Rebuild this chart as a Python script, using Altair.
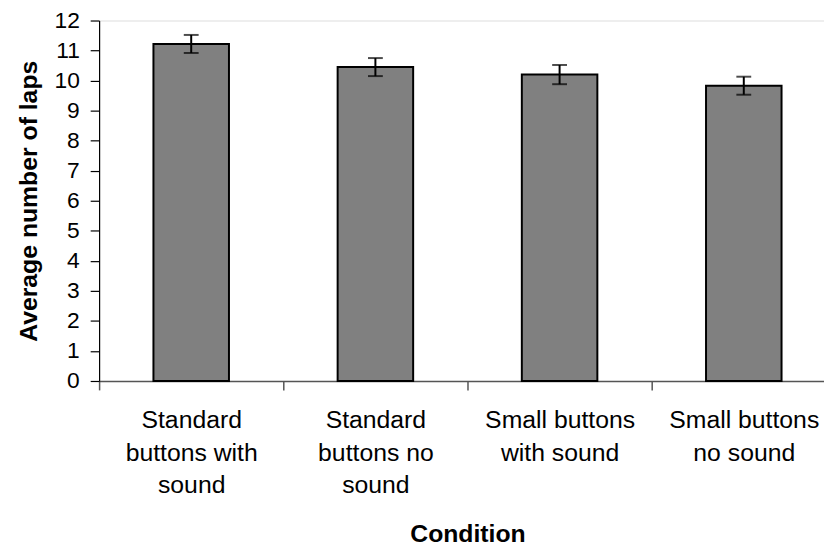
import altair as alt
import pandas as pd

conditions = [
    "Standard\nbuttons with\nsound",
    "Standard\nbuttons no\nsound",
    "Small buttons\nwith sound",
    "Small buttons\nno sound",
]
means = [11.22, 10.45, 10.2, 9.83]
errors = [0.3, 0.3, 0.32, 0.3]

df = pd.DataFrame({
    "condition": conditions,
    "mean": means,
    "lo": [m - e for m, e in zip(means, errors)],
    "hi": [m + e for m, e in zip(means, errors)],
})

font = "Liberation Sans"

x_axis = alt.Axis(
    labelAngle=0,
    labelExpr="split(datum.label, '\\n')",
    labelFont=font,
    labelFontSize=25,
    labelLineHeight=33,
    labelColor="black",
    labelPadding=18,
    labelLimit=300,
    ticks=True,
    tickOffset=-93,
    labelOffset=93,
    tickSize=9,
    tickColor="#555555",
    tickWidth=1.5,
    domainColor="#555555",
    domainWidth=1.5,
    titleFont=font,
    titleFontSize=25,
    titleFontWeight="bold",
    titleColor="black",
    titlePadding=24,
)
x_scale = alt.Scale(paddingInner=0.59, paddingOuter=0.295, range=[0, 744])

def xenc():
    return alt.X("condition:N", sort=conditions, title="Condition",
                 scale=x_scale, axis=x_axis)

y_axis = alt.Axis(
    values=list(range(0, 13)),
    grid=False,
    labelFont=font,
    labelFontSize=23,
    labelColor="black",
    labelPadding=11,
    tickSize=9,
    tickColor="black",
    tickWidth=1.2,
    domainColor="black",
    domainWidth=1.2,
    titleFont=font,
    titleFontSize=25,
    titleFontWeight="bold",
    titleColor="black",
    titlePadding=13,
)
y_scale = alt.Scale(domain=[0, 12], nice=False)

def yenc(field):
    return alt.Y(field, type="quantitative", title="Average number of laps",
                 scale=y_scale, axis=y_axis)

base = alt.Chart(df)

bars = base.mark_bar(color="#808080", stroke="black", strokeWidth=2).encode(
    x=xenc(), y=yenc("mean"),
)
rule = base.mark_rule(color="black", strokeWidth=2).encode(
    x=xenc(), y=yenc("lo"), y2="hi:Q",
)
cap_hi = base.mark_tick(color="black", thickness=2, size=15, orient="horizontal").encode(
    x=xenc(), y=yenc("hi"),
)
cap_lo = base.mark_tick(color="black", thickness=2, size=15, orient="horizontal").encode(
    x=xenc(), y=yenc("lo"),
)

chart = (
    alt.layer(bars, rule, cap_hi, cap_lo)
    .properties(
        width=732,
        height=364,
        autosize=alt.AutoSizeParams(type="none"),
        padding={"left": 92, "top": 10, "right": 0, "bottom": 165},
    )
    .configure_view(stroke=None)
    .configure(background="white")
)

chart.save("out.html", embed_options={"renderer": "svg", "actions": False})
